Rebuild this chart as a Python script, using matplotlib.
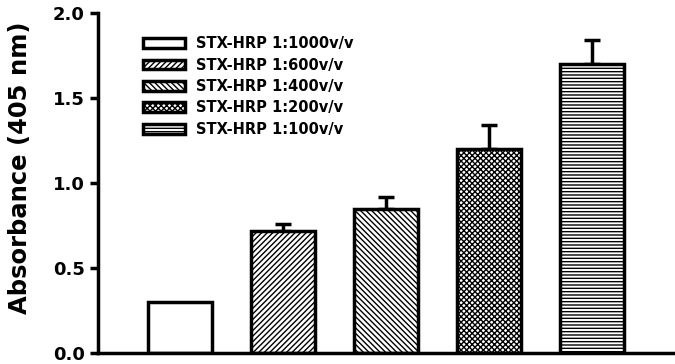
import matplotlib
matplotlib.use("Agg")
import matplotlib.pyplot as plt
import numpy as np

# data
labels = ["STX-HRP 1:1000v/v", "STX-HRP 1:600v/v", "STX-HRP 1:400v/v",
          "STX-HRP 1:200v/v", "STX-HRP 1:100v/v"]
absorbance = [0.30, 0.72, 0.85, 1.20, 1.70]
errors = [0.0, 0.04, 0.07, 0.14, 0.14]
hatches = ["", "//////", "\\\\\\\\\\\\", "xxxxxx", "-----"]

plt.rcParams["hatch.linewidth"] = 1.0
plt.rcParams["font.family"] = "DejaVu Sans"
plt.rcParams["font.weight"] = "bold"

fig = plt.figure(figsize=(6.75, 3.64), dpi=100)
ax = fig.add_axes([0.145, 0.030, 0.855, 0.934])

x = np.arange(len(absorbance))
for i in range(len(absorbance)):
    ax.bar(x[i], absorbance[i], width=0.62, color="white", edgecolor="black",
           linewidth=2.5, hatch=hatches[i], label=labels[i], zorder=2)
    if errors[i] > 0:
        ax.errorbar(x[i], absorbance[i], yerr=[[0], [errors[i]]], fmt="none",
                    ecolor="black", elinewidth=2.5, capsize=5.5, capthick=2.5,
                    zorder=1)

ax.set_xlim(-0.796, 4.806)
ax.set_ylim(0, 2.0)
ax.set_yticks([0.0, 0.5, 1.0, 1.5, 2.0])
ax.set_yticklabels(["0.0", "0.5", "1.0", "1.5", "2.0"], fontsize=13, fontweight="bold")
ax.set_xticks([])
ax.spines["top"].set_visible(False)
ax.spines["right"].set_visible(False)
ax.spines["left"].set_linewidth(2.5)
ax.spines["bottom"].set_linewidth(2.5)
ax.tick_params(axis="y", length=6, width=2.5, pad=3.5)
ax.set_ylabel("Absorbance (405 nm)", fontsize=17.5, fontweight="bold")
ax.yaxis.set_label_coords(-0.115, 0.546)

ax.legend(loc="upper left", bbox_to_anchor=(0.078, 0.932), frameon=False,
          prop={"size": 10.5, "weight": "bold"}, handlelength=2.88,
          handleheight=0.65, labelspacing=0.44, handletextpad=0.75,
          borderaxespad=0, borderpad=0)

fig.savefig("out.png", dpi=100)
